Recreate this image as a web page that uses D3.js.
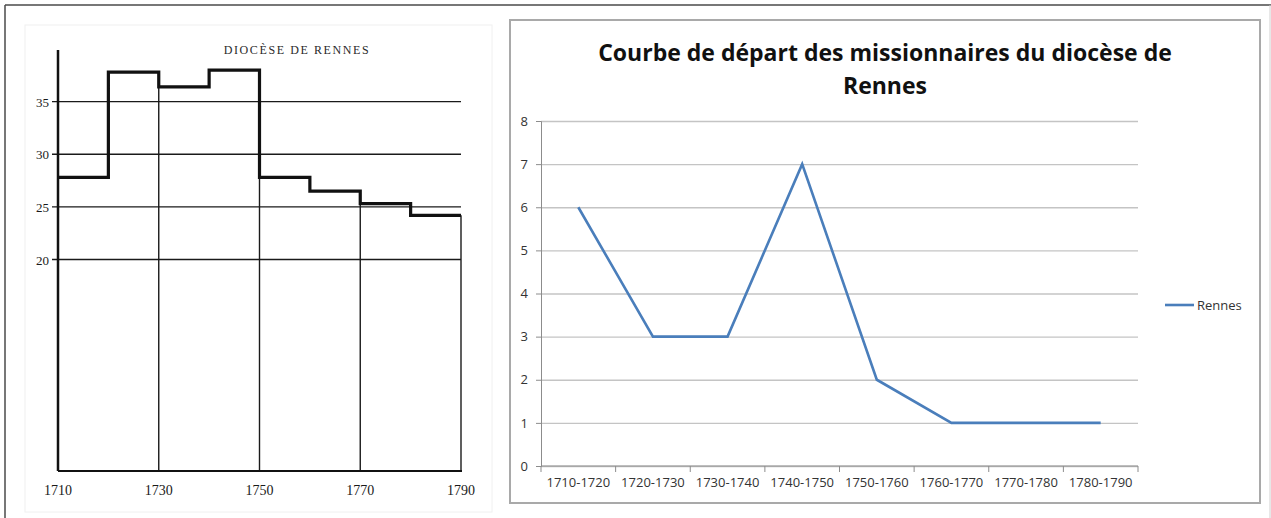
<!DOCTYPE html>
<html>
<head>
<meta charset="utf-8">
<script src="https://cdn.jsdelivr.net/npm/d3@7"></script>
<style>
  body { margin: 0; background: #fff; }
  svg { display: block; }
</style>
</head>
<body>
<script>
// left panel: scanned step chart (decades, share per decade)
const stepYears = [1710, 1720, 1730, 1740, 1750, 1760, 1770, 1780];
const stepValues = [27.8, 37.8, 36.4, 38.0, 27.8, 26.5, 25.3, 24.2];
const stepGrid = [20, 25, 30, 35];
const stepTicksX = [1710, 1730, 1750, 1770, 1790];
const stepTitle = "DIOCÈSE DE RENNES";

// right panel: excel line chart
const periods = ["1710-1720", "1720-1730", "1730-1740", "1740-1750",
                 "1750-1760", "1760-1770", "1770-1780", "1780-1790"];
const departures = [6, 3, 3, 7, 2, 1, 1, 1];
const lineTitle = ["Courbe de départ des missionnaires du diocèse de", "Rennes"];
const seriesName = "Rennes";

const W = 1271, H = 518;

let svg = d3.select("body")
    .append("svg")
    .attr("width", W)
    .attr("height", H);

// outer frame of the figure
svg.append("line").attr("x1", 5).attr("x2", W).attr("y1", 5).attr("y2", 5)
    .attr("stroke", "#4a4a4a").attr("stroke-width", 1.5);
svg.append("line").attr("x1", 5).attr("x2", 5).attr("y1", 5).attr("y2", H)
    .attr("stroke", "#4a4a4a").attr("stroke-width", 1.5);
svg.append("line").attr("x1", 1270).attr("x2", 1270).attr("y1", 5).attr("y2", H)
    .attr("stroke", "#d0d0d0").attr("stroke-width", 1);

// ---------- left: step chart ----------
const left = svg.append("g");
left.append("rect")
    .attr("x", 25).attr("y", 25).attr("width", 467).attr("height", 487)
    .attr("fill", "none").attr("stroke", "#f0f0f0");

let xs = d3.scaleLinear().domain([1710, 1790]).range([58, 461]);
let ys = d3.scaleLinear().domain([0, 40]).range([470, 49]);

const serif = "'Liberation Serif', 'DejaVu Serif', serif";

// horizontal rules
left.selectAll("line.grid")
    .data(stepGrid)
    .enter()
    .append("line")
    .attr("class", "grid")
    .attr("x1", xs(1710) - 6).attr("x2", xs(1790))
    .attr("y1", d => ys(d)).attr("y2", d => ys(d))
    .attr("stroke", "#1a1a1a").attr("stroke-width", 1.4);

left.selectAll("text.ylab")
    .data(stepGrid)
    .enter()
    .append("text")
    .attr("class", "ylab")
    .attr("x", xs(1710) - 9)
    .attr("y", d => ys(d) + 5)
    .attr("text-anchor", "end")
    .attr("font-family", serif)
    .attr("font-size", 13)
    .attr("fill", "#1a1a1a")
    .text(d => d);

// vertical rules at every 20 years, from the step down to the base
const stepAt = yr => {
    let i = stepYears.indexOf(yr);
    let prev = i > 0 ? stepValues[i - 1] : stepValues[stepValues.length - 1];
    return i >= 0 ? Math.min(prev, stepValues[i]) : stepValues[stepValues.length - 1];
};
left.selectAll("line.vrule")
    .data(stepTicksX.slice(1))
    .enter()
    .append("line")
    .attr("class", "vrule")
    .attr("x1", d => xs(d)).attr("x2", d => xs(d))
    .attr("y1", d => ys(stepAt(d))).attr("y2", ys(0))
    .attr("stroke", "#1a1a1a").attr("stroke-width", 1.4);

// axes lines
left.append("line")
    .attr("x1", xs(1710)).attr("x2", xs(1710))
    .attr("y1", ys(40) + 1).attr("y2", ys(0) + 1)
    .attr("stroke", "#111").attr("stroke-width", 2.5);
left.append("line")
    .attr("x1", xs(1710)).attr("x2", xs(1790) + 1)
    .attr("y1", ys(0) + 1).attr("y2", ys(0) + 1)
    .attr("stroke", "#111").attr("stroke-width", 2.2);

// the step curve
let stepData = stepYears.map((y, i) => ({year: y, v: stepValues[i]}));
stepData.push({year: 1790, v: stepValues[stepValues.length - 1]});
let stepLine = d3.line()
    .x(d => xs(d.year))
    .y(d => ys(d.v))
    .curve(d3.curveStepAfter);
left.append("path")
    .datum(stepData)
    .attr("d", stepLine)
    .attr("fill", "none")
    .attr("stroke", "#111")
    .attr("stroke-width", 3.2);

left.selectAll("text.xlab")
    .data(stepTicksX)
    .enter()
    .append("text")
    .attr("class", "xlab")
    .attr("x", d => xs(d))
    .attr("y", 495)
    .attr("text-anchor", "middle")
    .attr("font-family", serif)
    .attr("font-size", 14)
    .attr("fill", "#1a1a1a")
    .text(d => d);

left.append("text")
    .attr("x", 297).attr("y", 54)
    .attr("text-anchor", "middle")
    .attr("font-family", serif)
    .attr("font-size", 12)
    .attr("letter-spacing", 1.6)
    .attr("fill", "#2a2a2a")
    .text(stepTitle);

// ---------- right: line chart ----------
const right = svg.append("g");
right.append("rect")
    .attr("x", 510).attr("y", 20).attr("width", 750).attr("height", 483)
    .attr("fill", "#fff").attr("stroke", "#a9a9a9").attr("stroke-width", 2);

const sans = "'Open Sans', 'Liberation Sans', sans-serif";

right.selectAll("text.title")
    .data(lineTitle)
    .enter()
    .append("text")
    .attr("class", "title")
    .attr("x", 885)
    .attr("y", (d, i) => 61 + i * 33)
    .attr("text-anchor", "middle")
    .attr("font-family", sans)
    .attr("font-weight", "bold")
    .attr("font-size", 23)
    .attr("fill", "#111")
    .text(d => d);

let xb = d3.scaleBand().domain(periods).range([541, 1138]);
let yl = d3.scaleLinear().domain([0, 8]).range([466, 121]);

// gridlines
right.append("g")
    .attr("transform", "translate(" + 541 + ",0)")
    .call(d3.axisLeft(yl).ticks(8).tickSize(-(1138 - 541)).tickFormat(""))
    .call(g => g.select(".domain").remove())
    .call(g => g.selectAll("line").attr("stroke", "#c4c4c4").attr("stroke-width", 1.3));

// y axis
right.append("g")
    .attr("transform", "translate(" + 541 + ",0)")
    .call(d3.axisLeft(yl).ticks(8).tickSize(5).tickPadding(8))
    .call(g => g.select(".domain").attr("stroke", "#8c8c8c"))
    .call(g => g.selectAll("line").attr("stroke", "#8c8c8c"))
    .call(g => g.selectAll("text")
        .attr("font-family", sans).attr("font-size", 13).attr("fill", "#333"));

// x axis, ticks at band edges
right.append("g")
    .attr("transform", "translate(0," + yl(0) + ")")
    .call(d3.axisBottom(xb).tickSize(0).tickPadding(12))
    .call(g => g.select(".domain").attr("stroke", "#8c8c8c").attr("d", "M541,0H1138"))
    .call(g => g.selectAll("text")
        .attr("font-family", sans).attr("font-size", 13).attr("fill", "#333"));
right.selectAll("line.xtick")
    .data(periods.concat(["end"]))
    .enter()
    .append("line")
    .attr("class", "xtick")
    .attr("x1", (d, i) => 541 + i * xb.step())
    .attr("x2", (d, i) => 541 + i * xb.step())
    .attr("y1", yl(0)).attr("y2", yl(0) + 6)
    .attr("stroke", "#8c8c8c");

let valueline = d3.line()
    .x((d, i) => xb(periods[i]) + xb.bandwidth() / 2)
    .y(d => yl(d));
right.append("path")
    .datum(departures)
    .attr("d", valueline)
    .attr("fill", "none")
    .attr("stroke", "#4a7ebb")
    .attr("stroke-width", 2.6);

// legend
right.append("line")
    .attr("x1", 1165).attr("x2", 1194).attr("y1", 305).attr("y2", 305)
    .attr("stroke", "#4a7ebb").attr("stroke-width", 2.6);
right.append("text")
    .attr("x", 1197).attr("y", 310)
    .attr("font-family", sans).attr("font-size", 13).attr("fill", "#333")
    .text(seriesName);
</script>
</body>
</html>
